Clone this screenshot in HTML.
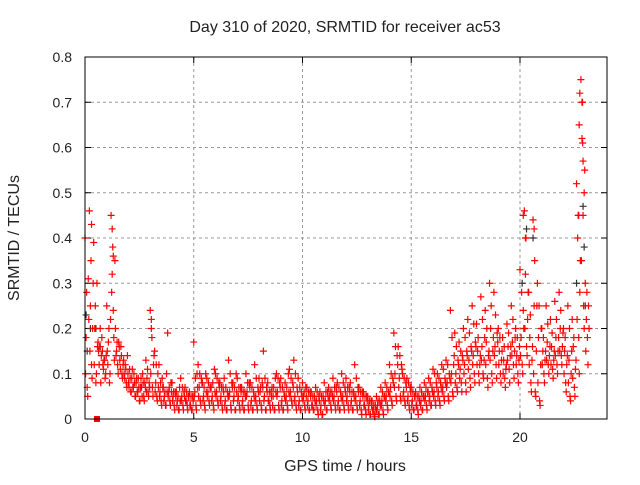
<!DOCTYPE html>
<html><head><meta charset="utf-8"><style>
body{margin:0;background:#fff;}
svg text{font-family:"Liberation Sans",sans-serif;font-size:14px;fill:#222;}
svg text.big{font-size:16px;}
</style></head><body>
<svg id="chart" width="640" height="480">
<rect width="640" height="480" fill="#fff"/>
<text class="big" x="345" y="32" text-anchor="middle">Day 310 of 2020, SRMTID for receiver ac53</text>
<text class="big" x="345" y="471" text-anchor="middle">GPS time / hours</text>
<text class="big" transform="translate(19,238) rotate(-90)" text-anchor="middle">SRMTID / TECUs</text>
<g id="grid"></g><g id="ticks"></g><g id="marks"></g>
<rect x="85" y="57" width="522" height="362" fill="none" stroke="#000" stroke-width="1"/>
</svg>
<script>
const slotTimes=[0,0.2,0.4,0.6,0.8,1,1.2,1.4,1.6,1.8,2,2.2,2.4,2.6,2.8,3,3.2,3.4,3.6,3.8,4,4.2,4.4,4.6,4.8,5,5.2,5.4,5.6,5.8,6,6.2,6.4,6.6,6.8,7,7.2,7.4,7.6,7.8,8,8.2,8.4,8.6,8.8,9,9.2,9.4,9.6,9.8,10,10.2,10.4,10.6,10.8,11,11.2,11.4,11.6,11.8,12,12.2,12.4,12.6,12.8,13,13.2,13.4,13.6,13.8,14,14.2,14.4,14.6,14.8,15,15.2,15.4,15.6,15.8,16,16.2,16.4,16.6,16.8,17,17.2,17.4,17.6,17.8,18,18.2,18.4,18.6,18.8,19,19.2,19.4,19.6,19.8,20,20.2,20.4,20.6,20.8,21,21.2,21.4,21.6,21.8,22,22.2,22.4,22.6,22.8,23];
const valsA=[.40,.46,.39,.17,.15,.25,.45,.20,.13,.10,.08,.07,.06,.07,.13,.24,.15,.12,.07,.19,.08,.06,.09,.07,.06,.17,.12,.08,.09,.07,.10,.08,.09,.13,.08,.09,.07,.10,.08,.12,.09,.15,.08,.07,.10,.09,.08,.11,.13,.09,.08,.07,.06,.07,.06,.08,.07,.09,.08,.10,.09,.08,.12,.07,.06,.05,.04,.05,.07,.08,.12,.19,.16,.10,.09,.07,.06,.07,.08,.09,.11,.10,.12,.13,.24,.19,.17,.20,.22,.25,.21,.27,.24,.30,.28,.20,.18,.21,.25,.20,.33,.46,.28,.44,.30,.20,.25,.22,.26,.28,.20,.25,.22,.52,.75,.30];
const valsB=[.18,.25,.20,.12,.11,.12,.32,.15,.16,.12,.11,.10,.09,.10,.09,.20,.08,.06,.05,.06,.05,.04,.05,.04,.03,.06,.07,.05,.06,.05,.06,.05,.04,.06,.05,.05,.04,.06,.04,.05,.06,.05,.04,.05,.06,.04,.05,.06,.05,.04,.05,.04,.03,.04,.03,.04,.05,.05,.04,.05,.05,.04,.05,.04,.03,.03,.02,.03,.04,.05,.07,.10,.09,.06,.05,.04,.03,.04,.05,.05,.06,.06,.07,.08,.10,.10,.11,.12,.13,.14,.15,.16,.17,.20,.16,.15,.13,.16,.17,.14,.18,.32,.18,.25,.18,.15,.17,.16,.18,.20,.15,.13,.16,.40,.62,.22];
const valsC=[.07,.12,.08,.20,.13,.20,.24,.12,.10,.08,.06,.05,.04,.05,.06,.07,.05,.04,.03,.04,.03,.02,.03,.03,.02,.03,.04,.03,.04,.03,.04,.03,.02,.03,.02,.03,.02,.03,.02,.03,.03,.02,.03,.02,.03,.02,.03,.04,.03,.02,.03,.02,.02,.02,.01,.02,.03,.03,.02,.03,.03,.02,.03,.02,.02,.01,.01,.01,.02,.03,.04,.05,.05,.04,.03,.02,.02,.02,.03,.03,.04,.04,.05,.05,.06,.07,.08,.08,.09,.10,.10,.10,.09,.10,.12,.10,.09,.11,.12,.10,.12,.16,.08,.06,.04,.10,.12,.11,.12,.14,.08,.05,.07,.18,.45,.18];
const valsD=[.31,.20,.30,.14,.10,.10,.13,.17,.12,.14,.09,.08,.07,.08,.08,.12,.10,.09,.10,.08,.06,.07,.06,.05,.05,.10,.09,.10,.07,.11,.08,.07,.06,.08,.10,.07,.06,.08,.06,.07,.08,.07,.06,.09,.08,.06,.10,.08,.07,.06,.07,.06,.05,.05,.05,.06,.06,.07,.06,.07,.07,.06,.07,.06,.05,.04,.03,.04,.05,.06,.09,.14,.12,.08,.07,.05,.05,.05,.06,.07,.08,.08,.09,.10,.12,.13,.14,.15,.16,.17,.12,.13,.14,.15,.19,.13,.11,.14,.15,.13,.24,.22,.13,.15,.12,.13,.14,.13,.15,.16,.12,.10,.11,.28,.20,.25];
const valsE=[.10,.15,.12,.15,.12,.15,.28,.14,.11,.09,.07,.07,.06,.05,.06,.10,.06,.05,.04,.05,.04,.03,.04,.04,.03,.05,.05,.04,.05,.04,.05,.04,.03,.05,.04,.04,.03,.05,.03,.04,.04,.04,.04,.03,.05,.03,.04,.05,.04,.03,.04,.03,.03,.03,.02,.03,.04,.04,.03,.04,.04,.03,.04,.03,.03,.02,.02,.02,.03,.04,.05,.07,.07,.05,.04,.03,.03,.03,.04,.04,.05,.05,.06,.07,.08,.08,.09,.10,.11,.12,.12,.13,.12,.13,.14,.12,.10,.13,.14,.12,.14,.20,.12,.10,.08,.12,.13,.12,.14,.15,.10,.08,.09,.22,.35,.15];
const valsF=[.28,.35,.25,.16,.13,.17,.38,.17,.14,.11,.09,.08,.07,.08,.11,.18,.12,.08,.06,.07,.06,.05,.07,.06,.05,.09,.10,.07,.08,.08,.09,.07,.07,.10,.07,.07,.06,.08,.07,.09,.07,.09,.06,.07,.09,.07,.07,.09,.10,.07,.06,.06,.05,.06,.05,.06,.06,.07,.07,.08,.07,.06,.09,.06,.05,.04,.03,.04,.06,.07,.10,.16,.14,.09,.08,.06,.05,.06,.07,.08,.10,.09,.11,.12,.18,.16,.15,.18,.19,.21,.18,.22,.20,.25,.23,.18,.16,.19,.22,.18,.28,.40,.23,.35,.25,.18,.21,.19,.22,.24,.18,.20,.18,.45,.70,.28];
const valsG=[.05,.09,.10,.08,.09,.08,.18,.10,.09,.07,.06,.05,.04,.04,.05,.05,.04,.03,.03,.03,.02,.02,.02,.02,.02,.02,.03,.02,.03,.02,.03,.02,.02,.02,.02,.02,.02,.02,.02,.02,.02,.02,.02,.02,.02,.02,.02,.03,.02,.02,.02,.02,.02,.01,.01,.02,.02,.02,.02,.02,.02,.02,.02,.01,.01,.01,.005,.01,.01,.02,.03,.04,.04,.03,.02,.02,.01,.02,.02,.03,.03,.03,.04,.04,.05,.06,.06,.06,.07,.08,.08,.09,.07,.08,.09,.08,.07,.08,.09,.08,.10,.14,.06,.05,.03,.08,.10,.09,.10,.12,.06,.04,.05,.10,.25,.12];
const valsH=[.22,.30,.16,.18,.14,.22,.35,.16,.13,.10,.11,.09,.09,.07,.07,.14,.07,.07,.06,.06,.05,.04,.05,.05,.04,.07,.08,.06,.07,.06,.07,.06,.05,.07,.06,.06,.05,.07,.05,.06,.07,.06,.05,.06,.07,.05,.06,.07,.06,.05,.05,.05,.04,.04,.04,.05,.05,.06,.05,.06,.06,.05,.06,.05,.04,.03,.02,.03,.05,.06,.08,.12,.11,.07,.06,.05,.04,.05,.06,.06,.07,.07,.08,.09,.14,.12,.13,.14,.15,.16,.14,.18,.15,.18,.17,.15,.12,.16,.18,.16,.20,.28,.16,.25,.20,.15,.16,.15,.18,.19,.14,.15,.13,.35,.55,.20];
const extraTimes=[0.3,1.25,1.3,3.05,20.15,20.25,20.65,22.7,22.75,22.85,22.9,22.95,22.72,22.88];
const extraVals=[.43,.42,.36,.22,.45,.40,.42,.45,.72,.70,.57,.50,.65,.61];
const greyTimes=[0.05,0.1,0.25,0.5,0.7,20.1,20.3,20.6,22.6,22.9,22.95,23.0];
const greyVals=[.23,.15,.20,.20,.16,.30,.42,.40,.30,.47,.38,.25];
const yTicks=[0,0.1,0.2,0.3,0.4,0.5,0.6,0.7,0.8];
const xTicks=[0,5,10,15,20];
const X=t=>85+t*(522/24), Y=v=>419-v*(362/0.8);
const NS="http://www.w3.org/2000/svg";
const grid=document.getElementById('grid'),ticks=document.getElementById('ticks'),marks=document.getElementById('marks');
function mk(tag,attrs,parent){const e=document.createElementNS(NS,tag);for(const k in attrs)e.setAttribute(k,attrs[k]);parent.appendChild(e);return e;}
yTicks.forEach(v=>{const y=Y(v);
 if(v>0&&v<0.8){const g=mk('line',{x1:85,x2:607,y1:y,y2:y,stroke:'#999','stroke-dasharray':'3,3'},grid);}
 mk('line',{x1:85,x2:91,y1:y,y2:y,stroke:'#000'},ticks);mk('line',{x1:601,x2:607,y1:y,y2:y,stroke:'#000'},ticks);
 const t=mk('text',{x:72,y:y+5,'text-anchor':'end'},ticks);t.textContent=v===0?'0':String(v);
 
 });
xTicks.forEach(v=>{const x=X(v);
 if(v>0){const g=mk('line',{x1:x,x2:x,y1:57,y2:419,stroke:'#999','stroke-dasharray':'3,3'},grid);}
 mk('line',{x1:x,x2:x,y1:419,y2:413,stroke:'#000'},ticks);mk('line',{x1:x,x2:x,y1:57,y2:63,stroke:'#000'},ticks);
 const t=mk('text',{x:x,y:442,'text-anchor':'middle'},ticks);t.textContent=String(v);
 
 });
function plus(t,v,color,name){const x=X(t),y=Y(v);
 const p=mk('path',{d:`M${x-3.5},${y}h7M${x},${y-3.5}v7`,stroke:color,'stroke-width':1.2,fill:'none'},marks);
 
 }
greyTimes.forEach((t,i)=>plus(t,greyVals[i],'#333','grey-point'));
const series=[valsA,valsE,valsB,valsF,valsC,valsG,valsD,valsH];
const offs=[0,0.025,0.05,0.075,0.1,0.125,0.15,0.175];
series.forEach((arr,k)=>slotTimes.forEach((t,i)=>plus(t+offs[k],arr[i],'#f00','red-point')));
extraTimes.forEach((t,i)=>plus(t,extraVals[i],'#f00','red-point'));
const sq=mk('rect',{x:X(0.55)-3,y:Y(0)-3,width:6,height:6,fill:'#f00'},marks);


</script>
</body></html>
